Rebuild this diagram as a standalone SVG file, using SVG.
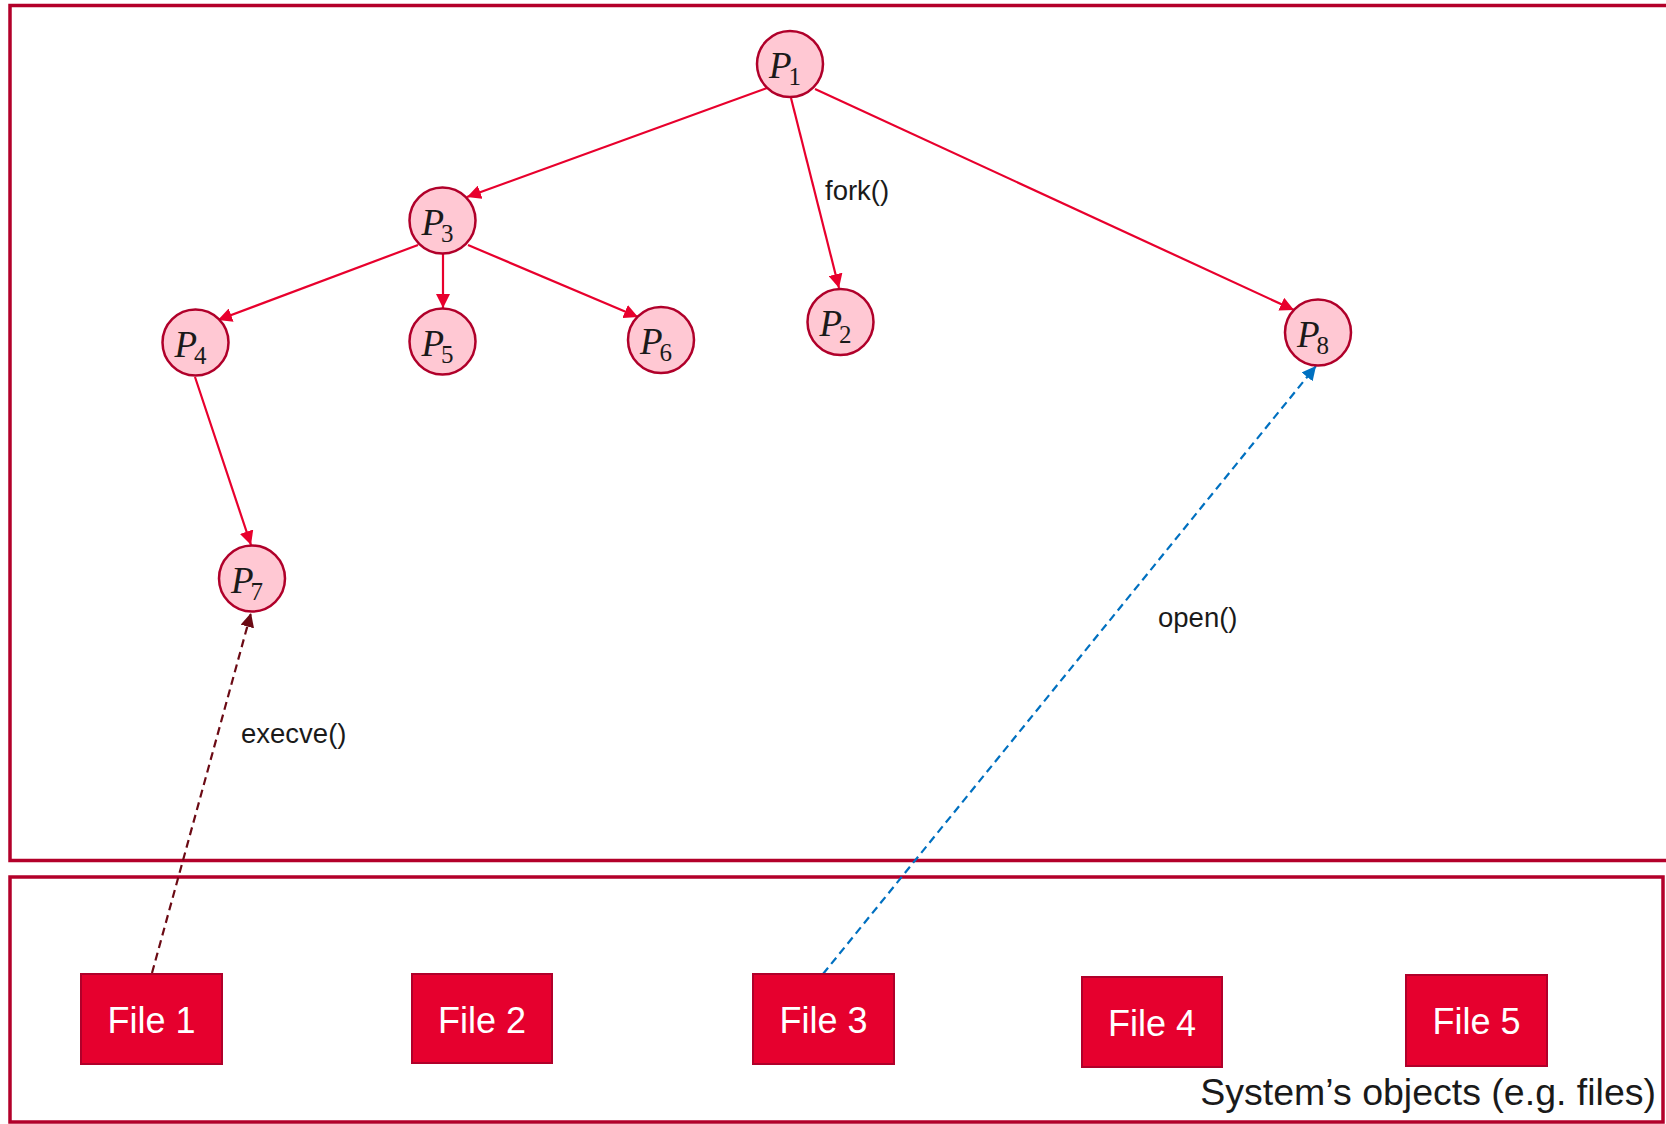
<svg xmlns="http://www.w3.org/2000/svg" width="1666" height="1124" viewBox="0 0 1666 1124">
  <style>
    .frame { fill: none; stroke: #B3002A; stroke-width: 3.5; }
    .proc circle { fill: #FFC8D3; stroke: #B0002A; stroke-width: 2.5; }
    .plabel { font-family: "Liberation Serif", "DejaVu Serif", serif; fill: #1a1a1a; }
    .plabel .p { font-style: italic; font-size: 37px; }
    .plabel .sub { font-size: 25px; }
    .file rect { fill: #E6002E; stroke: #B0002A; stroke-width: 2; }
    .file text { font-family: "Liberation Sans", Arial, sans-serif; font-size: 36px; fill: #ffffff; text-anchor: middle; }
    .fork { stroke: #E8002D; stroke-width: 2.2; fill: none; marker-end: url(#ah-red); }
    .exec { stroke: #6B0A14; stroke-width: 2.2; fill: none; stroke-dasharray: 8 5; marker-end: url(#ah-dark); }
    .open { stroke: #0070C0; stroke-width: 2.2; fill: none; stroke-dasharray: 8 5; marker-end: url(#ah-blue); }
    .call { font-family: "Liberation Sans", Arial, sans-serif; font-size: 27.5px; fill: #1a1a1a; }
    .caption { font-family: "Liberation Sans", Arial, sans-serif; font-size: 37.5px; fill: #1a1a1a; text-anchor: end; }
  </style>
  <defs>
    <marker id="ah-red" viewBox="0 0 14 14" refX="14" refY="7" markerWidth="14" markerHeight="14" markerUnits="userSpaceOnUse" orient="auto">
      <path d="M0,0 L14,7 L0,14 z" fill="#E8002D"/>
    </marker>
    <marker id="ah-dark" viewBox="0 0 14 14" refX="14" refY="7" markerWidth="14" markerHeight="14" markerUnits="userSpaceOnUse" orient="auto">
      <path d="M0,0 L14,7 L0,14 z" fill="#6B0A14"/>
    </marker>
    <marker id="ah-blue" viewBox="0 0 14 14" refX="14" refY="7" markerWidth="14" markerHeight="14" markerUnits="userSpaceOnUse" orient="auto">
      <path d="M0,0 L14,7 L0,14 z" fill="#0070C0"/>
    </marker>
  </defs>

  <rect width="1666" height="1124" fill="#ffffff"/>

  <!-- process space and object space frames -->
  <g id="frames">
    <rect class="frame" x="10" y="5.5" width="1670" height="855"/>
    <rect class="frame" x="10" y="877" width="1653" height="245"/>
  </g>

  <!-- connectors: fork tree, execve and open -->
  <g id="connectors">
    <line class="fork" x1="767" y1="88" x2="467" y2="197"/>
    <line class="fork" x1="791" y1="98" x2="839" y2="288"/>
    <line class="fork" x1="815" y1="89" x2="1294" y2="310"/>
    <line class="fork" x1="418" y1="245" x2="218" y2="320"/>
    <line class="fork" x1="443" y1="254" x2="443" y2="308"/>
    <line class="fork" x1="468" y1="245" x2="638" y2="317"/>
    <line class="fork" x1="195" y1="377" x2="251" y2="545"/>
    <line class="exec" x1="152" y1="973" x2="251" y2="613"/>
    <line class="open" x1="823" y1="974" x2="1316" y2="366"/>
    <text class="call" x="825" y="200">fork()</text>
    <text class="call" x="1158" y="627">open()</text>
    <text class="call" x="241" y="743">execve()</text>
  </g>

  <!-- processes -->
  <g id="p1" class="proc">
    <circle cx="790" cy="64" r="33"/>
    <text class="plabel" x="769" y="78"><tspan class="p">P</tspan><tspan class="sub" dx="-3" dy="7">1</tspan></text>
  </g>
  <g id="p2" class="proc">
    <circle cx="840.5" cy="322" r="33"/>
    <text class="plabel" x="819.5" y="336"><tspan class="p">P</tspan><tspan class="sub" dx="-3" dy="7">2</tspan></text>
  </g>
  <g id="p3" class="proc">
    <circle cx="442.5" cy="220.5" r="33"/>
    <text class="plabel" x="421.5" y="234.5"><tspan class="p">P</tspan><tspan class="sub" dx="-3" dy="7">3</tspan></text>
  </g>
  <g id="p4" class="proc">
    <circle cx="195.5" cy="342.5" r="33"/>
    <text class="plabel" x="174.5" y="356.5"><tspan class="p">P</tspan><tspan class="sub" dx="-3" dy="7">4</tspan></text>
  </g>
  <g id="p5" class="proc">
    <circle cx="442.5" cy="341.5" r="33"/>
    <text class="plabel" x="421.5" y="355.5"><tspan class="p">P</tspan><tspan class="sub" dx="-3" dy="7">5</tspan></text>
  </g>
  <g id="p6" class="proc">
    <circle cx="661" cy="340" r="33"/>
    <text class="plabel" x="640" y="354"><tspan class="p">P</tspan><tspan class="sub" dx="-3" dy="7">6</tspan></text>
  </g>
  <g id="p7" class="proc">
    <circle cx="252" cy="578.5" r="33"/>
    <text class="plabel" x="231" y="592.5"><tspan class="p">P</tspan><tspan class="sub" dx="-3" dy="7">7</tspan></text>
  </g>
  <g id="p8" class="proc">
    <circle cx="1318" cy="332.5" r="33"/>
    <text class="plabel" x="1297" y="346.5"><tspan class="p">P</tspan><tspan class="sub" dx="-3" dy="7">8</tspan></text>
  </g>

  <!-- system objects -->
  <g id="file1" class="file">
    <rect x="81" y="974" width="141" height="90"/>
    <text x="151.5" y="1033">File 1</text>
  </g>
  <g id="file2" class="file">
    <rect x="412" y="974" width="140" height="89"/>
    <text x="482" y="1033">File 2</text>
  </g>
  <g id="file3" class="file">
    <rect x="753" y="974" width="141" height="90"/>
    <text x="823.5" y="1033">File 3</text>
  </g>
  <g id="file4" class="file">
    <rect x="1082" y="977" width="140" height="90"/>
    <text x="1152" y="1036">File 4</text>
  </g>
  <g id="file5" class="file">
    <rect x="1406" y="975" width="141" height="91"/>
    <text x="1476.5" y="1034">File 5</text>
  </g>

  <text class="caption" x="1656" y="1105">System’s objects (e.g. files)</text>
</svg>
